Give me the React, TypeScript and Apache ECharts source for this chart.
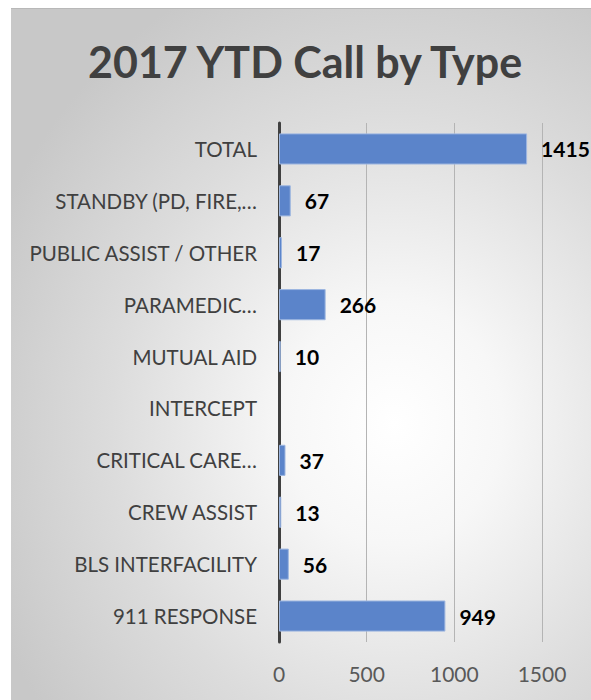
import React, { useEffect, useRef } from "react";
import * as echarts from "echarts";

const categories = [
  "911 RESPONSE",
  "BLS INTERFACILITY",
  "CREW ASSIST",
  "CRITICAL CARE…",
  "INTERCEPT",
  "MUTUAL AID",
  "PARAMEDIC…",
  "PUBLIC ASSIST / OTHER",
  "STANDBY (PD, FIRE,…",
  "TOTAL",
];
const values: (number | null)[] = [949, 56, 13, 37, null, 10, 266, 17, 67, 1415];
const titleText = "2017 YTD Call by Type";
const axisMin = 0;
const axisMax = 1500;
const axisInterval = 500;

export default function App() {
  const ref = useRef<HTMLDivElement>(null);
  useEffect(() => {
    if (!ref.current) return;
    const chart = echarts.init(ref.current, undefined, { renderer: "svg" });
    chart.setOption({
      animation: false,
      graphic: [
        {
          type: "text",
          left: 77,
          top: 31,
          style: {
            text: titleText,
            fontFamily: "Lato",
            fontWeight: "bold",
            fontSize: 43,
            fill: "#404040",
          },
        },
      ],
      grid: { left: 268, right: 49, top: 114, bottom: 58, containLabel: false },
      xAxis: {
        type: "value",
        min: axisMin,
        max: axisMax,
        interval: axisInterval,
        axisLine: { show: false },
        axisTick: { show: false },
        splitLine: { lineStyle: { color: "#b4b4b4", width: 1 } },
        axisLabel: {
          fontFamily: "Lato",
          fontSize: 21,
          color: "#595959",
          margin: 21,
          formatter: (v: number) => String(v),
        },
      },
      yAxis: {
        type: "category",
        data: categories,
        axisTick: { show: false },
        axisLine: { show: true, lineStyle: { color: "#404040", width: 3 } },
        axisLabel: {
          fontFamily: "Lato",
          fontSize: 20.5,
          color: "#404040",
          margin: 22,
        },
      },
      series: [
        {
          type: "bar",
          data: values,
          barCategoryGap: "40%",
          itemStyle: { color: "#5B84CA", borderColor: "#9db6e0", borderWidth: 1 },
          label: {
            show: true,
            position: "right",
            distance: 14,
            fontFamily: "Lato",
            fontWeight: "bold",
            fontSize: 21,
            color: "#000000",
          },
        },
      ],
    });
    return () => chart.dispose();
  }, []);
  return (
    <div
      style={{
        position: "absolute",
        left: 11,
        top: 8,
        width: 580,
        height: 692,
        borderTop: "1px solid #b8b8b8",
        boxSizing: "border-box",
        background:
          "radial-gradient(ellipse 75% 70% at 66% 60%, #ffffff 0%, #f7f7f7 25%, #dcdcdc 65%, #c8c8c8 100%)",
      }}
    >
      <div ref={ref} style={{ width: 580, height: 691 }} />
    </div>
  );
}
